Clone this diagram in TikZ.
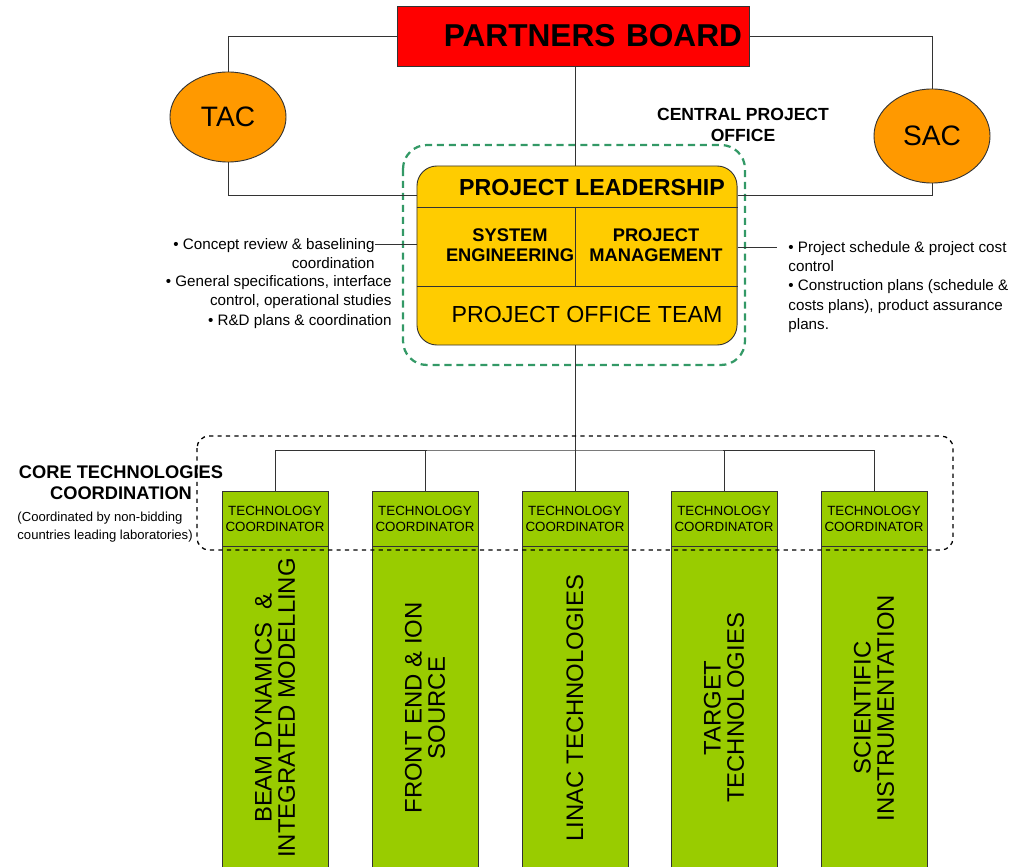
\documentclass[tikz,border=0pt]{standalone}
\usepackage{fontspec}
\setmainfont{Liberation Sans}
\usetikzlibrary{shapes.geometric, positioning}

\definecolor{boardred}{HTML}{FF0000}
\definecolor{cttorange}{HTML}{FF9900}
\definecolor{plyellow}{HTML}{FFCC00}
\definecolor{techgreen}{HTML}{99CC00}
\definecolor{cpogreen}{HTML}{339966}

\newcommand{\fsz}[2]{\fontsize{#1}{#2}\selectfont}

\begin{document}
\begin{tikzpicture}[
    x=0.025cm, y=-0.025cm,
    line width=0.65pt,
    draw=black!80,
    every node/.style={inner sep=0pt},
    board/.style={draw, fill=boardred, minimum width=8.8cm, minimum height=1.5cm},
    cttee/.style={ellipse, draw, fill=cttorange, minimum width=2.9cm, font=\fsz{20}{24}},
    plbox/.style={draw, fill=plyellow, rounded corners=0.5cm, minimum width=8cm, minimum height=4.475cm},
    head/.style={font=\bfseries\fsz{13}{14.2}, align=center},
    note/.style={font=\fsz{10.8}{13.6}},
    coordbox/.style={draw, fill=techgreen, minimum width=2.65cm, minimum height=1.375cm, align=center, font=\fsz{9.5}{11.4}},
    techarea/.style={draw, fill=techgreen, rotate=90, minimum width=8.1cm, minimum height=2.65cm, align=center, font=\fsz{17}{16.5}},
    cpo/.style={draw=cpogreen, line width=1.6pt, dash pattern=on 5pt off 3.5pt, rounded corners=0.6cm},
    coregroup/.style={draw=black, dashed, line width=0.9pt, rounded corners=0.3cm}
]
\useasboundingbox (0,0) rectangle (1029,866);

% --- Rows used by the connectors ---
\coordinate (rowT) at (0,195);
\coordinate (rowA) at (0,207);
\coordinate (rowB) at (0,286);
\coordinate (rowN) at (0,244);
\coordinate (rowR) at (0,247);
\coordinate (split) at (575,0);
\coordinate (bus) at (575,450);

% --- Board and committees ---
\node[board, text width=8.45cm, align=right, font=\bfseries\fsz{22.5}{26}] (pb) at (573,36) {PARTNERS BOARD};
\node[cttee, minimum height=2.25cm] (tac) at (228,117) {TAC};
\node[cttee, minimum height=2.35cm] (sac) at (932,136) {SAC};

% --- Central project office ---
\draw[cpo] (403,145) rectangle (745,365);
\node[head, font=\bfseries\fsz{12.5}{15}] (cpolbl) at (743,125) {CENTRAL PROJECT\\OFFICE};

\node[plbox] (pl) at (577,255.5) {};
\draw (pl.west |- rowA) -- (pl.east |- rowA);
\draw (pl.west |- rowB) -- (pl.east |- rowB);
\draw (split |- rowA) -- (split |- rowB);
\node[font=\bfseries\fsz{16.5}{20}] (lead) at (592,188) {PROJECT LEADERSHIP};
\node[head] (se) at (510,245) {SYSTEM\\ENGINEERING};
\node[head] (pm) at (656,245) {PROJECT\\MANAGEMENT};
\node[font=\fsz{16.5}{20}] (pot) at (587,315) {PROJECT OFFICE TEAM};

% --- Notes beside the office ---
\node[note, anchor=east, align=right] (seA) at (375,254) {• Concept review \& baselining\\coordination};
\node[note, anchor=east, align=right] (seB) at (392,302) {• General specifications, interface\\control, operational studies\\• R\&D plans \& coordination};
\node[note, inner xsep=0.275cm, anchor=west, align=left] (pmnote) at (777,287)
    {• Project schedule \& project cost\\control\\• Construction plans (schedule \&\\costs plans), product assurance\\plans.};

% --- Edges ---
\draw (pb.west) -| (tac.north);
\draw (tac.south) |- (pl.west |- rowT);
\draw (pb.east) -| (sac.north);
\draw (sac.south) |- (pl.east |- rowT);
\draw (pb.south -| split) -- (pl.north -| split);
\draw (seA.east |- rowN) -- (pl.west |- rowN);
\draw (pl.east |- rowR) -- (pmnote.west |- rowR);

% --- Core technologies ---
\foreach \i/\x/\area in {1/275/{BEAM DYNAMICS \ \&\\INTEGRATED MODELLING},
                         2/425/{FRONT END \& ION\\SOURCE},
                         3/575/{LINAC TECHNOLOGIES},
                         4/724/{TARGET\\TECHNOLOGIES},
                         5/874/{SCIENTIFIC\\INSTRUMENTATION}} {
    \node[techarea] (ta\i) at (\x,708) {\area};
    \node[coordbox] (tc\i) at (\x,518.5) {TECHNOLOGY\\COORDINATOR};
}

\draw (pl.south -| split) -- (tc3.north);
\draw (tc1.north) |- (bus) -| (tc5.north);
\draw (tc2.north) -- (tc2.north |- bus);
\draw (tc4.north) -- (tc4.north |- bus);

\draw[coregroup] (197,436) rectangle (953,550);
\node[head, font=\bfseries\fsz{13}{15}] (corelbl) at (121,482.5) {CORE TECHNOLOGIES\\COORDINATION};
\node[font=\fsz{9.3}{12.8}, anchor=west, align=left] (corenote) at (17,527) {(Coordinated by non-bidding\\countries leading laboratories)};

\end{tikzpicture}
\end{document}
